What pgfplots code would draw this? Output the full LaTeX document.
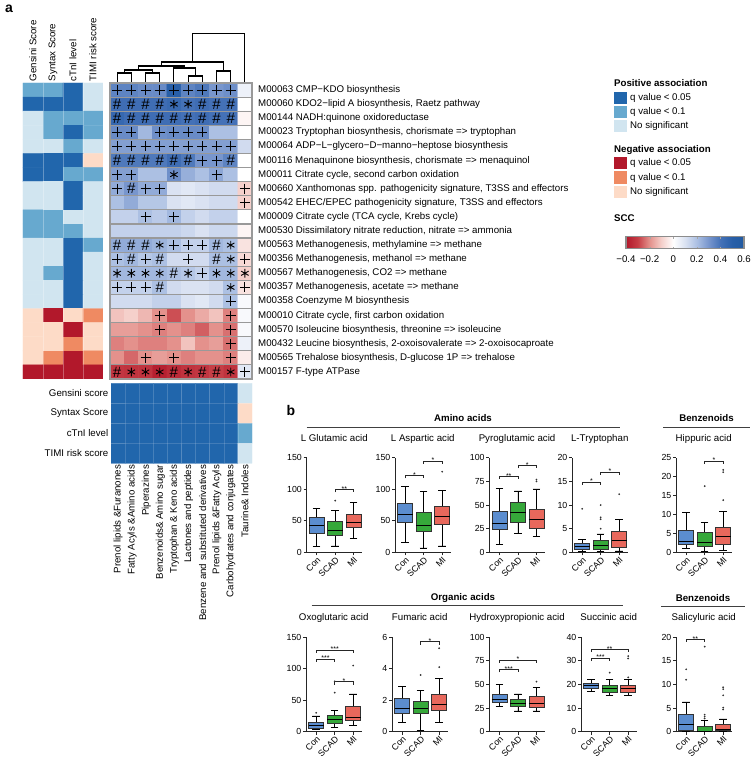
\documentclass[border=0pt]{standalone}
\usepackage{fontspec}
\setmainfont{Liberation Sans}
\usepackage{pgfplots}
\pgfplotsset{compat=1.18}
\usepgfplotslibrary{statistics}

\definecolor{qA}{RGB}{33,102,172}
\definecolor{qB}{RGB}{103,169,207}
\definecolor{qC}{RGB}{209,229,240}
\definecolor{qD}{RGB}{178,24,43}
\definecolor{qE}{RGB}{239,138,98}
\definecolor{qF}{RGB}{253,219,199}
\definecolor{conc}{RGB}{91,141,207}
\definecolor{scadc}{RGB}{54,168,58}
\definecolor{mic}{RGB}{232,104,92}

\newcommand{\fs}{\fontsize{9.7}{11}\selectfont}
\newcommand{\fst}{\fontsize{8.8}{10}\selectfont}

\pgfplotsset{
  /pgf/number format/assume math mode=true,
  clinmap/.style={
    colormap={clin}{rgb255=(33,102,172) rgb255=(103,169,207) rgb255=(209,229,240)
                    rgb255=(178,24,43) rgb255=(239,138,98) rgb255=(253,219,199)},
    point meta min=0, point meta max=5},
  bxp/.style={
    scale only axis, width=55.5pt, height=94.5pt, anchor=south west,
    xmin=0.45, xmax=3.45, ymin=0, clip=false,
    axis lines*=left, axis line style={black!85, line width=0.8pt},
    xtick={1,2,3}, xticklabels={Con,SCAD,MI},
    x tick label style={rotate=45, anchor=north east, inner sep=0.5pt, font=\fst},
    y tick label style={font=\fst, inner sep=1.5pt},
    tick align=outside, major tick length=3pt,
    tick style={black!85, line width=0.8pt},
    title style={font=\fs, at={(0.5,1)}, anchor=base, yshift=10.5pt},
    boxplot/draw direction=y,
    boxplot/box extend=0.82, boxplot/whisker extend=0.4,
    boxplot/every median/.style={black, line width=1pt},
    boxplot/every whisker/.style={black, line width=0.7pt},
  },
}

% box: colour, position, lower whisker, lower quartile, median, upper quartile, upper whisker, outliers
\newcommand{\bx}[8]{%
  \addplot[fill=#1, draw=black!80, line width=0.6pt, mark=*, mark size=0.55pt,
    mark options={fill=black!55, draw=none},
    boxplot prepared={draw position=#2, lower whisker=#3, lower quartile=#4,
      median=#5, upper quartile=#6, upper whisker=#7}] coordinates {#8};}
% bracket: x1, x2, mid, y, y of the end ticks, stars
\newcommand{\sig}[6]{%
  \addplot[black!85, line width=0.6pt, mark=none] coordinates {(#1,#5) (#1,#4) (#2,#4) (#2,#5)};
  \addplot[only marks, mark=text, text mark={#6}, text mark as node,
    text mark style={font=\fontsize{7}{7}\selectfont, anchor=south, inner sep=0pt, yshift=-2.2pt}]
    coordinates {(#3,#4)};}

\begin{document}
\begin{tikzpicture}
\useasboundingbox (0,0) rectangle (754pt,763pt);

% ---------------- dendrogram
\begin{axis}[scale only axis, width=142pt, height=50pt, at={(110pt,680pt)}, anchor=south west,
  xmin=0.5, xmax=10.5, ymin=0, ymax=50, hide axis, clip=false]
\addplot[black, line width=1.1pt] coordinates {(1,1) (1,10) (2,10) (2,1)};
\addplot[black, line width=1.1pt] coordinates {(3,1) (3,10) (4,10) (4,1)};
\addplot[black, line width=1.1pt] coordinates {(1.5,10) (1.5,13) (3.5,13) (3.5,10)};
\addplot[black, line width=1.1pt] coordinates {(6,1) (6,7) (7,7) (7,1)};
\addplot[black, line width=1.1pt] coordinates {(5,1) (5,15) (6.5,15) (6.5,7)};
\addplot[black, line width=1.1pt] coordinates {(2.5,13) (2.5,17) (5.75,17) (5.75,15)};
\addplot[black, line width=1.1pt] coordinates {(8,1) (8,12) (9,12) (9,1)};
\addplot[black, line width=1.1pt] coordinates {(4.125,17) (4.125,21) (8.5,21) (8.5,12)};
\addplot[black, line width=1.1pt] coordinates {(6.3125,21) (6.3125,49.5) (10,49.5) (10,1)};
\end{axis}

% ---------------- clinical associations of the modules
\begin{axis}[clinmap, scale only axis, width=80pt, height=296pt, at={(23pt,384pt)}, anchor=south west,
  xmin=0.5, xmax=4.5, ymin=0.5, ymax=21.5, y dir=reverse,
  xtick={1,2,3,4}, xticklabels={Gensini Score,Syntax Score,cTnI level,TIMI risk score},
  xticklabel pos=right, xticklabel style={rotate=90, anchor=west, font=\fs, inner sep=1.5pt},
  ytick=\empty, major tick length=0pt, minor tick length=0pt, axis line style={draw=none},
  minor xtick={1.5,2.5,3.5}, minor ytick={1.5,2.5,...,20.5}, xminorgrids=true, yminorgrids=true,
  minor grid style={white, opacity=0.3, line width=0.6pt}, axis on top]
\addplot[matrix plot*, mesh/cols=4, point meta=explicit] coordinates {
(1,1)[1] (2,1)[1] (3,1)[0] (4,1)[2]
(1,2)[0] (2,2)[0] (3,2)[0] (4,2)[2]
(1,3)[2] (2,3)[1] (3,3)[1] (4,3)[1]
(1,4)[2] (2,4)[1] (3,4)[0] (4,4)[1]
(1,5)[2] (2,5)[2] (3,5)[1] (4,5)[2]
(1,6)[0] (2,6)[0] (3,6)[0] (4,6)[5]
(1,7)[0] (2,7)[0] (3,7)[1] (4,7)[1]
(1,8)[2] (2,8)[2] (3,8)[0] (4,8)[2]
(1,9)[2] (2,9)[2] (3,9)[0] (4,9)[2]
(1,10)[1] (2,10)[1] (3,10)[2] (4,10)[2]
(1,11)[1] (2,11)[1] (3,11)[1] (4,11)[2]
(1,12)[2] (2,12)[2] (3,12)[0] (4,12)[1]
(1,13)[2] (2,13)[2] (3,13)[0] (4,13)[2]
(1,14)[2] (2,14)[1] (3,14)[0] (4,14)[2]
(1,15)[2] (2,15)[2] (3,15)[0] (4,15)[2]
(1,16)[2] (2,16)[2] (3,16)[0] (4,16)[2]
(1,17)[5] (2,17)[3] (3,17)[5] (4,17)[4]
(1,18)[5] (2,18)[5] (3,18)[3] (4,18)[5]
(1,19)[5] (2,19)[5] (3,19)[4] (4,19)[5]
(1,20)[5] (2,20)[4] (3,20)[3] (4,20)[4]
(1,21)[3] (2,21)[3] (3,21)[3] (4,21)[3]
};
\end{axis}

% ---------------- SCC heatmap
\begin{axis}[scale only axis, width=142pt, height=296pt, at={(110pt,384pt)}, anchor=south west,
  xmin=0.5, xmax=10.5, ymin=0.5, ymax=21.5, y dir=reverse, clip=false,
  xtick=\empty, ytick={1,...,21},
  yticklabels={{M00063 CMP−KDO biosynthesis},
    {M00060 KDO2−lipid A biosynthesis, Raetz pathway},
    {M00144 NADH:quinone oxidoreductase},
    {M00023 Tryptophan biosynthesis, chorismate => tryptophan},
    {M00064 ADP−L−glycero−D−manno−heptose biosynthesis},
    {M00116 Menaquinone biosynthesis, chorismate => menaquinol},
    {M00011 Citrate cycle, second carbon oxidation},
    {M00660 Xanthomonas spp. pathogenicity signature, T3SS and effectors},
    {M00542 EHEC/EPEC pathogenicity signature, T3SS and effectors},
    {M00009 Citrate cycle (TCA cycle, Krebs cycle)},
    {M00530 Dissimilatory nitrate reduction, nitrate => ammonia},
    {M00563 Methanogenesis, methylamine => methane},
    {M00356 Methanogenesis, methanol => methane},
    {M00567 Methanogenesis, CO2 => methane},
    {M00357 Methanogenesis, acetate => methane},
    {M00358 Coenzyme M biosynthesis},
    {M00010 Citrate cycle, first carbon oxidation},
    {M00570 Isoleucine biosynthesis, threonine => isoleucine},
    {M00432 Leucine biosynthesis, 2-oxoisovalerate => 2-oxoisocaproate},
    {M00565 Trehalose biosynthesis, D-glucose 1P => trehalose},
    {M00157 F-type ATPase}},
  yticklabel pos=right, yticklabel style={anchor=west, font=\fs, inner sep=0pt, xshift=6pt},
  major tick length=0pt, minor tick length=0pt,
  minor xtick={0.5,1.5,...,10.5}, minor ytick={0.5,1.5,...,21.5},
  xminorgrids=true, yminorgrids=true,
  minor grid style={black!40, line width=1.1pt},
  axis line style={black!40, line width=1.1pt}, axis on top,
  colormap={scc}{rgb255(0cm)=(178,24,43) rgb255(1cm)=(198,62,70) rgb255(2cm)=(228,145,140)
    rgb255(3cm)=(245,208,203) rgb255(4cm)=(255,255,255) rgb255(5cm)=(218,226,242)
    rgb255(6cm)=(172,192,227) rgb255(7cm)=(120,150,205) rgb255(8cm)=(68,113,183)
    rgb255(9cm)=(40,95,168) rgb255(10cm)=(33,90,160)},
  point meta min=-0.4, point meta max=0.6,
  colorbar horizontal,
  colorbar style={at={(parent axis.north east)}, anchor=north west,
    xshift=374pt, yshift=-145.3pt, scale only axis, width=118pt, height=11.7pt,
    xtick={-0.4,-0.2,0,0.2,0.4,0.6}, xticklabels={−0.4,−0.2,0,0.2,0.4,0.6},
    xticklabel style={font=\fs, yshift=-4pt}, tick align=inside, major tick length=2pt,
    xtick style={black!35}, axis line style={black!45, line width=1.3pt}},
]
\addplot[matrix plot*, mesh/cols=10, point meta=explicit] coordinates {
(1,1)[.35] (2,1)[.35] (3,1)[.33] (4,1)[.33] (5,1)[.5] (6,1)[.35] (7,1)[.38] (8,1)[.3] (9,1)[.32] (10,1)[.05]
(1,2)[.42] (2,2)[.42] (3,2)[.42] (4,2)[.42] (5,2)[.44] (6,2)[.4] (7,2)[.42] (8,2)[.4] (9,2)[.4] (10,2)[0]
(1,3)[.45] (2,3)[.42] (3,3)[.42] (4,3)[.42] (5,3)[.42] (6,3)[.4] (7,3)[.42] (8,3)[.4] (9,3)[.4] (10,3)[-.02]
(1,4)[.33] (2,4)[.33] (3,4)[.22] (4,4)[.32] (5,4)[.33] (6,4)[.33] (7,4)[.33] (8,4)[.2] (9,4)[.2] (10,4)[0]
(1,5)[.28] (2,5)[.28] (3,5)[.28] (4,5)[.28] (5,5)[.28] (6,5)[.28] (7,5)[.28] (8,5)[.28] (9,5)[.28] (10,5)[.12]
(1,6)[.38] (2,6)[.38] (3,6)[.38] (4,6)[.38] (5,6)[.42] (6,6)[.38] (7,6)[.3] (8,6)[.3] (9,6)[.35] (10,6)[0]
(1,7)[.28] (2,7)[.28] (3,7)[.2] (4,7)[.2] (5,7)[.32] (6,7)[.24] (7,7)[.2] (8,7)[.26] (9,7)[.2] (10,7)[0]
(1,8)[.25] (2,8)[.3] (3,8)[.25] (4,8)[.25] (5,8)[.1] (6,8)[.08] (7,8)[.1] (8,8)[.12] (9,8)[.12] (10,8)[-.1]
(1,9)[.2] (2,9)[.25] (3,9)[.18] (4,9)[.18] (5,9)[.1] (6,9)[.08] (7,9)[.1] (8,9)[.12] (9,9)[.12] (10,9)[-.1]
(1,10)[.15] (2,10)[.15] (3,10)[.2] (4,10)[.17] (5,10)[.22] (6,10)[.15] (7,10)[.12] (8,10)[.15] (9,10)[.15] (10,10)[0]
(1,11)[.15] (2,11)[.15] (3,11)[.15] (4,11)[.15] (5,11)[.15] (6,11)[.13] (7,11)[.1] (8,11)[.13] (9,11)[.13] (10,11)[-.02]
(1,12)[.25] (2,12)[.25] (3,12)[.25] (4,12)[.23] (5,12)[.2] (6,12)[.15] (7,12)[.15] (8,12)[.22] (9,12)[.2] (10,12)[-.06]
(1,13)[.2] (2,13)[.22] (3,13)[.18] (4,13)[.2] (5,13)[.12] (6,13)[.12] (7,13)[.12] (8,13)[.2] (9,13)[.2] (10,13)[-.08]
(1,14)[.22] (2,14)[.22] (3,14)[.22] (4,14)[.22] (5,14)[.2] (6,14)[.18] (7,14)[.15] (8,14)[.22] (9,14)[.22] (10,14)[-.1]
(1,15)[.15] (2,15)[.15] (3,15)[.15] (4,15)[.2] (5,15)[.12] (6,15)[.1] (7,15)[.1] (8,15)[.12] (9,15)[.2] (10,15)[-.06]
(1,16)[.12] (2,16)[.12] (3,16)[.12] (4,16)[.15] (5,16)[.15] (6,16)[.1] (7,16)[.08] (8,16)[.12] (9,16)[.2] (10,16)[.02]
(1,17)[-.12] (2,17)[-.1] (3,17)[-.14] (4,17)[-.2] (5,17)[-.28] (6,17)[-.2] (7,17)[-.16] (8,17)[-.12] (9,17)[-.22] (10,17)[.02]
(1,18)[-.18] (2,18)[-.18] (3,18)[-.2] (4,18)[-.22] (5,18)[-.2] (6,18)[-.22] (7,18)[-.26] (8,18)[-.2] (9,18)[-.24] (10,18)[.02]
(1,19)[-.22] (2,19)[-.2] (3,19)[-.22] (4,19)[-.22] (5,19)[-.2] (6,19)[-.12] (7,19)[-.2] (8,19)[-.18] (9,19)[-.24] (10,19)[.05]
(1,20)[-.2] (2,20)[-.25] (3,20)[-.2] (4,20)[-.18] (5,20)[-.2] (6,20)[-.22] (7,20)[-.2] (8,20)[-.2] (9,20)[-.22] (10,20)[-.04]
(1,21)[-.32] (2,21)[-.33] (3,21)[-.33] (4,21)[-.38] (5,21)[-.35] (6,21)[-.33] (7,21)[-.32] (8,21)[-.3] (9,21)[-.33] (10,21)[.08]
};
% q value < 0.1
\addplot[only marks, mark=+, mark size=5pt, line width=1pt, black] coordinates {
(1,1) (2,1) (3,1) (4,1) (5,1) (6,1) (7,1) (8,1) (9,1)
(1,4) (2,4) (4,4) (5,4) (6,4) (7,4)
(1,5) (2,5) (3,5) (4,5) (5,5) (6,5) (7,5) (8,5) (9,5)
(7,6) (8,6) (1,7) (2,7) (8,7)
(1,8) (3,8) (4,8) (10,8) (10,9) (3,10) (5,10)
(5,12) (6,12) (7,12) (1,13) (3,13) (6,13) (10,13) (7,14)
(1,15) (2,15) (3,15) (10,15) (9,16) (4,17) (9,17) (4,18) (9,18) (9,19)
(3,20) (5,20) (9,20) (10,21)};
% q value < 0.05
\addplot[only marks, mark=text, text mark={\#}, text mark as node,
  text mark style={font=\fontsize{15}{15}\selectfont, inner sep=0pt}] coordinates {
(1,2) (2,2) (3,2) (4,2) (7,2) (8,2) (9,2)
(1,3) (2,3) (3,3) (4,3) (5,3) (6,3) (7,3) (8,3) (9,3)
(1,6) (2,6) (3,6) (4,6) (5,6) (6,6) (9,6) (2,8)
(1,12) (2,12) (3,12) (8,12) (2,13) (4,13) (8,13) (5,14) (4,15)
(1,21) (5,21) (7,21) (8,21)};
% q value < 0.01
\addplot[only marks, mark=asterisk, mark size=4.3pt, line width=0.9pt, black] coordinates {
(5,2) (6,2) (5,7) (4,12) (9,12) (9,13)
(1,14) (2,14) (3,14) (4,14) (6,14) (8,14) (9,14) (10,14) (9,15)
(2,21) (3,21) (4,21) (6,21) (9,21)};
\end{axis}

% ---------------- metabolite classes vs clinical indices
\begin{axis}[clinmap, scale only axis, width=141pt, height=80pt, at={(111pt,299.7pt)}, anchor=south west,
  xmin=0.5, xmax=10.5, ymin=0.5, ymax=4.5, y dir=reverse,
  xtick={1,...,10},
  xticklabels={Prenol lipids \&Furanones, Fatty Acyls \&Amino acids, Piperazines,
    Benzenoids\& Amino sugar, Tryptophan \& Keno acids, Lactones and peptides,
    Benzene and substituted derivatives, Prenol lipids \&Fatty Acyls,
    Carbohydrates and conjugates, Taurine\& Indoles},
  xticklabel style={rotate=90, anchor=east, font=\fs, inner sep=1.5pt},
  ytick={1,2,3,4}, yticklabels={Gensini score,Syntax Score,cTnI level,TIMI risk score},
  yticklabel style={anchor=east, font=\fs, inner sep=2.5pt},
  major tick length=0pt, minor tick length=0pt, axis line style={draw=none},
  minor xtick={1.5,2.5,...,9.5}, minor ytick={1.5,2.5,3.5}, xminorgrids=true, yminorgrids=true,
  minor grid style={white, opacity=0.15, line width=0.6pt}, axis on top]
\addplot[matrix plot*, mesh/cols=10, point meta=explicit] coordinates {
(1,1)[0] (2,1)[0] (3,1)[0] (4,1)[0] (5,1)[0] (6,1)[0] (7,1)[0] (8,1)[0] (9,1)[0] (10,1)[2]
(1,2)[0] (2,2)[0] (3,2)[0] (4,2)[0] (5,2)[0] (6,2)[0] (7,2)[0] (8,2)[0] (9,2)[0] (10,2)[5]
(1,3)[0] (2,3)[0] (3,3)[0] (4,3)[0] (5,3)[0] (6,3)[0] (7,3)[0] (8,3)[0] (9,3)[0] (10,3)[1]
(1,4)[0] (2,4)[0] (3,4)[0] (4,4)[0] (5,4)[0] (6,4)[0] (7,4)[0] (8,4)[0] (9,4)[0] (10,4)[2]
};
\end{axis}

% ---------------- panel b, amino acids
\begin{axis}[bxp, at={(306.5pt,210.7pt)}, ymax=150, ytick={0,50,100,150}, title={L Glutamic acid}]
\bx{conc}{1}{9}{30}{42}{56}{70}{}
\bx{scadc}{2}{10}{27}{35}{49}{66}{(0,82)}
\bx{mic}{3}{22}{39}{48}{61}{79}{}
\sig{2}{3}{2.5}{100}{95.2}{**}
\end{axis}
\begin{axis}[bxp, at={(395pt,210.7pt)}, ymax=150, ytick={0,50,100,150}, title={L Aspartic acid}]
\bx{conc}{1}{15}{48}{60}{78}{105}{}
\bx{scadc}{2}{7}{34}{42}{64}{97}{}
\bx{mic}{3}{10}{44}{57}{73}{98}{(0,128)}
\sig{1}{2}{1.5}{122}{117.2}{*}
\sig{2}{3}{2.5}{145}{140.2}{*}
\end{axis}
\begin{axis}[bxp, at={(489.3pt,210.7pt)}, ymax=100, ytick={0,25,50,75,100}, title={Pyroglutamic acid}]
\bx{conc}{1}{8}{24}{30}{43}{68}{}
\bx{scadc}{2}{20}{32}{42}{53}{65}{}
\bx{mic}{3}{17}{25}{35}{45}{67}{(0,77) (0,75)}
\sig{1}{2}{1.5}{80.5}{77.3}{**}
\sig{2}{3}{2.5}{92}{88.8}{*}
\end{axis}
\begin{axis}[bxp, at={(572pt,210.7pt)}, ymax=20, ytick={0,5,10,15,20}, title={L-Tryptophan}]
\bx{conc}{1}{0.2}{0.6}{1.2}{1.9}{2.7}{(0,9.2)}
\bx{scadc}{2}{0.1}{0.6}{1.4}{2.6}{3.9}{(0,5.0) (0,7.0) (0,7.4) (0,10.0)}
\bx{mic}{3}{0.3}{1.0}{2.4}{4.4}{7.0}{(0,12.3)}
\sig{1}{2}{1.5}{14.9}{14.3}{*}
\sig{2}{3}{2.5}{17}{16.4}{*}
\end{axis}
\begin{axis}[bxp, at={(676pt,210.7pt)}, ymax=25, ytick={0,5,10,15,20,25}, title={Hippuric acid}]
\bx{conc}{1}{1.0}{2.0}{2.8}{5.8}{10.5}{}
\bx{scadc}{2}{0.3}{1.5}{2.5}{5.2}{7.8}{(0,17.5)}
\bx{mic}{3}{0.5}{2.2}{4.3}{6.5}{10.8}{(0,13.8) (0,21.2) (0,21.8)}
\sig{2}{3}{2.5}{24.2}{23.4}{*}
\end{axis}

% ---------------- panel b, organic acids
\begin{axis}[bxp, at={(306pt,31.3pt)}, ymax=150, ytick={0,50,100,150}, title={Oxoglutaric acid}]
\bx{conc}{1}{4}{6}{10}{15}{25}{(0,30)}
\bx{scadc}{2}{7}{14}{19}{26}{34}{(0,62) (0,80)}
\bx{mic}{3}{10}{18}{23}{41}{60}{(0,105)}
\sig{1}{2}{1.5}{115.5}{110.7}{***}
\sig{1}{3}{2}{129.8}{125}{***}
\sig{2}{3}{2.5}{79.5}{74.7}{*}
\end{axis}
\begin{axis}[bxp, at={(392pt,31.3pt)}, ymax=6, ytick={0,2,4,6}, title={Fumaric acid}]
\bx{conc}{1}{0.6}{1.15}{1.5}{2.1}{2.85}{}
\bx{scadc}{2}{0.1}{1.15}{1.5}{1.9}{2.6}{(0,3.6)}
\bx{mic}{3}{0.6}{1.35}{1.75}{2.4}{3.4}{(0,4.1) (0,5.3)}
\sig{2}{3}{2.5}{5.72}{5.53}{*}
\end{axis}
\begin{axis}[bxp, at={(489.3pt,31.3pt)}, ymax=100, ytick={0,25,50,75,100}, title={Hydroxypropionic acid}]
\bx{conc}{1}{27}{31}{34}{40}{50}{}
\bx{scadc}{2}{22}{27}{30}{34}{40}{}
\bx{mic}{3}{22}{26}{30}{37}{47}{(0,53)}
\sig{1}{2}{1.5}{66}{62.8}{***}
\sig{1}{3}{2}{76}{72.8}{*}
\end{axis}
\begin{axis}[bxp, at={(581pt,31.3pt)}, ymax=40, ytick={0,10,20,30,40}, title={Succinic acid}]
\bx{conc}{1}{17}{18.5}{19.5}{20.5}{22}{}
\bx{scadc}{2}{15.5}{16.5}{18.2}{19.5}{22}{(0,25)}
\bx{mic}{3}{15.5}{16.8}{18.2}{19.5}{22}{(0,23) (0,31) (0,32)}
\sig{1}{2}{1.5}{31.2}{29.9}{***}
\sig{1}{3}{2}{35}{33.7}{**}
\end{axis}
\begin{axis}[bxp, at={(676pt,31.3pt)}, ymax=20, ytick={0,5,10,15,20}, title={Salicyluric acid}]
\bx{conc}{1}{0}{0.2}{1.5}{3.6}{6.3}{(0,11) (0,13.2)}
\bx{scadc}{2}{0}{0}{0.1}{1.2}{2.3}{(0,2.8) (0,3.2) (0,3.6) (0,18)}
\bx{mic}{3}{0}{0.2}{0.5}{1.6}{2.7}{(0,4.7) (0,5.1) (0,7.7) (0,9.0) (0,9.4)}
\sig{1}{2}{1.5}{19.6}{19}{**}
\end{axis}

% ---------------- labels, legend and group headers (pixel coordinates, y downwards)
\begin{scope}[shift={(0,763pt)}, yscale=-1, x=1pt, y=1pt]
\node[font=\bfseries\fontsize{14}{14}\selectfont] at (9,9) {a};
\node[font=\bfseries\fontsize{14}{14}\selectfont] at (291,410) {b};

\node[anchor=west, inner sep=0pt, font=\bfseries\fs] at (614,82.7) {Positive association};
\fill[qA] (614,92) rectangle (626.5,104.5);
\fill[qB] (614,106) rectangle (626.5,118.5);
\fill[qC] (614,120) rectangle (626.5,132.5);
\node[anchor=west, inner sep=0pt, font=\fs] at (630,98.2) {q value\kern2.5pt<\kern2.5pt0.05};
\node[anchor=west, inner sep=0pt, font=\fs] at (630,112.2) {q value\kern2.5pt<\kern2.5pt0.1};
\node[anchor=west, inner sep=0pt, font=\fs] at (630,126.2) {No significant};
\node[anchor=west, inner sep=0pt, font=\bfseries\fs] at (614,150.3) {Negative association};
\fill[qD] (614,157) rectangle (626.5,169.5);
\fill[qE] (614,171.5) rectangle (626.5,184);
\fill[qF] (614,186) rectangle (626.5,198.5);
\node[anchor=west, inner sep=0pt, font=\fs] at (630,163.2) {q value\kern2.5pt<\kern2.5pt0.05};
\node[anchor=west, inner sep=0pt, font=\fs] at (630,177.7) {q value\kern2.5pt<\kern2.5pt0.1};
\node[anchor=west, inner sep=0pt, font=\fs] at (630,192.2) {No significant};
\node[anchor=west, inner sep=0pt, font=\bfseries\fs] at (614,218.3) {SCC};

\draw[black!75, line width=0.9pt] (306.7,427.3) -- (620,427.3);
\node[font=\bfseries\fs] at (463,418.5) {Amino acids};
\draw[black!75, line width=0.9pt] (663,427.3) -- (750,427.3);
\node[font=\bfseries\fs] at (706.5,418.5) {Benzenoids};
\draw[black!75, line width=0.9pt] (311.7,605.7) -- (622.7,605.7);
\node[font=\bfseries\fs] at (463,598) {Organic acids};
\draw[black!75, line width=0.9pt] (661,606) -- (745,606);
\node[font=\bfseries\fs] at (703,598) {Benzenoids};
\end{scope}
\end{tikzpicture}
\end{document}
